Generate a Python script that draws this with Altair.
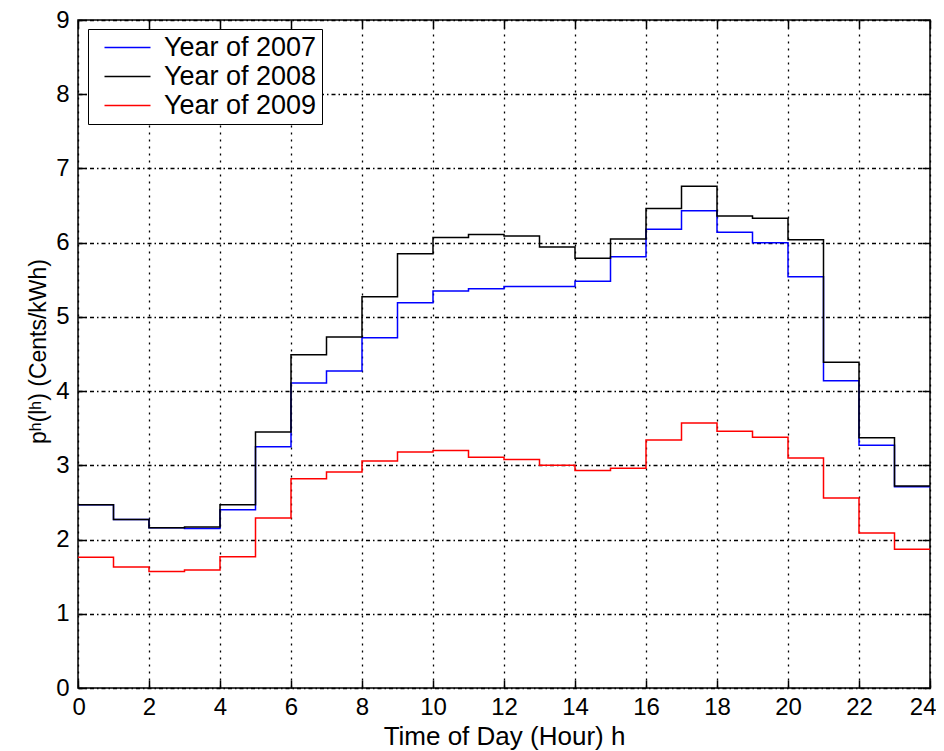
import altair as alt
import pandas as pd

# ---- data (hourly price, step function) ----
hours = list(range(25))
years = ["Year of 2007", "Year of 2008", "Year of 2009"]
price_2007 = [2.47, 2.27, 2.16, 2.15, 2.40, 3.25, 4.11, 4.27, 4.72, 5.19, 5.35, 5.38,
              5.41, 5.41, 5.48, 5.81, 6.18, 6.43, 6.14, 6.00, 5.54, 4.14, 3.27, 2.71]
price_2008 = [2.47, 2.27, 2.16, 2.17, 2.47, 3.45, 4.49, 4.73, 5.27, 5.85, 6.07, 6.11,
              6.09, 5.94, 5.79, 6.05, 6.46, 6.76, 6.36, 6.33, 6.04, 4.39, 3.37, 2.72]
price_2009 = [1.76, 1.63, 1.57, 1.59, 1.77, 2.29, 2.82, 2.91, 3.06, 3.18, 3.20, 3.11,
              3.08, 3.00, 2.93, 2.96, 3.34, 3.57, 3.46, 3.38, 3.10, 2.56, 2.09, 1.87]
x_ticks = list(range(0, 25, 2))
y_ticks = list(range(0, 10))
colors = ["#0000ff", "#000000", "#ff0000"]

rows = []
for name, vals in zip(years, [price_2007, price_2008, price_2009]):
    ext = vals + [vals[-1]]
    for h, v in zip(hours, ext):
        rows.append({"hour": h, "price": v, "year": name})
df = pd.DataFrame(rows)

FONT = "Liberation Sans"
xs = alt.Scale(domain=[0, 24], nice=False, zero=False)
ys = alt.Scale(domain=[0, 9], nice=False, zero=False)
TICK_COLOR = "black"
TICK_LEN = 8

lines = alt.Chart(df).mark_line(interpolate="step-after", strokeWidth=1.5, clip=True).encode(
    x=alt.X("hour:Q", scale=xs,
            axis=alt.Axis(orient="bottom", values=x_ticks, tickSize=0, domain=False,
                          labelFlush=True, labelFlushOffset=6, labelFontSize=24, labelPadding=7,
                          labelColor="black", labelFont=FONT,
                          title="Time of Day (Hour) h", titleFontSize=26, titleFontWeight="normal",
                          titleFont=FONT, titleColor="black", titlePadding=4,
                          grid=True, gridColor="black", gridOpacity=1, gridWidth=1.3,
                          gridDash=[2, 5])),
    y=alt.Y("price:Q", scale=ys,
            axis=alt.Axis(orient="left", values=y_ticks, tickSize=0, domain=False,
                          labelFlush=False, labelFontSize=24, labelPadding=9,
                          labelColor="black", labelFont=FONT,
                          title="pʰ(lʰ) (Cents/kWh)", titleFontSize=23, titleFontWeight="normal",
                          titleFont=FONT, titleColor="black", titlePadding=5, titleY=331,
                          grid=True, gridColor="black", gridOpacity=1, gridWidth=1.3,
                          gridDash=[4, 3, 1.5, 3])),
    color=alt.Color("year:N", scale=alt.Scale(domain=years, range=colors),
                    legend=alt.Legend(orient="none", legendX=10, legendY=9, title="",
                                      strokeColor="black", fillColor="white", padding=5,
                                      symbolType="M-2,0H2", symbolSize=529, symbolStrokeWidth=1.5,
                                      symbolOffset=21, labelFontSize=27, labelFont=FONT,
                                      labelColor="black", labelOffset=23, rowPadding=1,
                                      cornerRadius=0)),
    order=alt.Order("year:N"),
)

ticks_in_bl = alt.Chart(df).mark_line(opacity=0).encode(
    x=alt.X("hour:Q", scale=xs,
            axis=alt.Axis(orient="bottom", values=x_ticks, tickSize=TICK_LEN, offset=-TICK_LEN,
                          labels=False, domain=False, grid=False, title="",
                          tickColor=TICK_COLOR, tickWidth=1.5, zindex=2)),
    y=alt.Y("price:Q", scale=ys,
            axis=alt.Axis(orient="left", values=y_ticks, tickSize=TICK_LEN, offset=-TICK_LEN,
                          labels=False, domain=False, grid=False, title="",
                          tickColor=TICK_COLOR, tickWidth=1.5, zindex=2)),
)

ticks_in_tr = alt.Chart(df).mark_line(opacity=0).encode(
    x=alt.X("hour:Q", scale=xs,
            axis=alt.Axis(orient="top", values=x_ticks, tickSize=TICK_LEN, offset=-TICK_LEN,
                          labels=False, domain=False, grid=False, title="",
                          tickColor=TICK_COLOR, tickWidth=1.5, zindex=2)),
    y=alt.Y("price:Q", scale=ys,
            axis=alt.Axis(orient="right", values=y_ticks, tickSize=TICK_LEN, offset=-TICK_LEN,
                          labels=False, domain=False, grid=False, title="",
                          tickColor=TICK_COLOR, tickWidth=1.5, zindex=2)),
)

chart = alt.layer(lines, ticks_in_bl, ticks_in_tr).resolve_axis(
    x="independent", y="independent"
).properties(
    width=852, height=668,
    autosize=alt.AutoSizeParams(type="none"),
    padding={"left": 70, "top": 12, "right": 6, "bottom": 63},
    background="white",
).configure_view(stroke="black", strokeWidth=1.5)

chart.save("out.html", embed_options={"renderer": "svg", "actions": False})
